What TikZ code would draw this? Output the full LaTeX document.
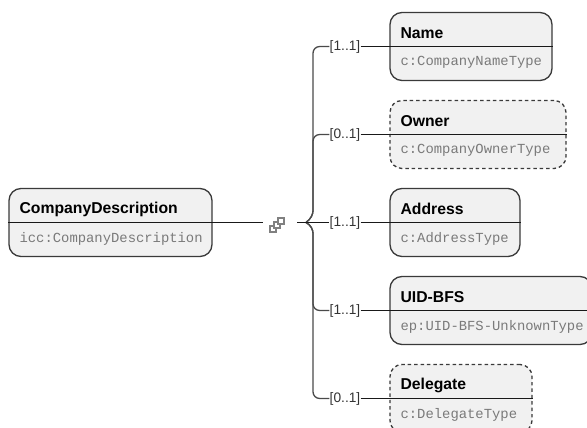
\documentclass[tikz,border=0pt]{standalone}
\usepackage{fontspec}
\setmainfont{Liberation Sans}
\setmonofont{Liberation Mono}
\definecolor{boxfill}{HTML}{F1F1F1}
\definecolor{boxline}{HTML}{3A3A3A}
\definecolor{typegray}{HTML}{7A7A7A}
\definecolor{wiregray}{HTML}{4A4A4A}
\tikzstyle{elem}=[draw=boxline,fill=boxfill,line width=1pt,rounded corners=9pt,minimum height=51pt,inner sep=0pt]
\tikzstyle{optional}=[elem,dash pattern=on 2.6pt off 2.2pt]
\tikzstyle{title}=[anchor=west,inner sep=0pt,font=\fontsize{11.8pt}{14pt}\selectfont\bfseries]
\tikzstyle{type}=[anchor=west,inner sep=0pt,text=typegray,font=\fontsize{10.4pt}{12pt}\selectfont\ttfamily]
\tikzstyle{mult}=[inner sep=0pt,text=black!80,font=\fontsize{10.3pt}{12pt}\selectfont]
\tikzstyle{wire}=[line width=.7pt,black!90]
\tikzstyle{brace}=[line width=1pt,wiregray]
\tikzstyle{link}=[draw=gray,line width=.9pt,fill=white]

\begin{document}
\begin{tikzpicture}[x=.75pt,y=-.75pt]
  \useasboundingbox (0,0) rectangle (587,428);
  \clip (0,0) rectangle (587,428);

  % boxes
  \node[elem,minimum width=152.25pt] (company) at (110.5,222.5) {};
  \node[elem,minimum width=121.5pt] (name) at (471,46.5) {};
  \node[optional,minimum width=132pt] (owner) at (478,134.5) {};
  \node[elem,minimum width=97.5pt] (address) at (455,222.5) {};
  \node[elem,minimum width=151.5pt] (uid) at (491,310.5) {};
  \node[optional,minimum width=106.5pt] (delegate) at (461,398.5) {};

  \foreach \b/\t/\c in {company/CompanyDescription/icc:CompanyDescription,
      name/Name/c:CompanyNameType,owner/Owner/c:CompanyOwnerType,
      address/Address/c:AddressType,uid/UID-BFS/ep:UID-BFS-UnknownType,
      delegate/Delegate/c:DelegateType}{
    \node[title] (\b title) at ([shift={(11,-13.5)}]\b.west) {\t};
    \node[type] (\b type) at ([shift={(11,16)}]\b.west) {\c};
  }

  % group icon
  \coordinate (grpin) at (263,222.5);
  \coordinate (grpout) at (297,222.5);
  \coordinate (hub) at (306,222.5);
  \draw[link] (270,226) rectangle (276,232);
  \draw[link] (274,222) rectangle (280,228);
  \draw[link] (278,218) rectangle (284,224);

  % multiplicities
  \node[mult] (mname) at (345,46.5) {[1..1]};
  \node[mult] (mowner) at (345,134.5) {[0..1]};
  \node[mult] (maddress) at (345,222.5) {[1..1]};
  \node[mult] (muid) at (345,310.5) {[1..1]};
  \node[mult] (mdelegate) at (345,398.5) {[0..1]};

  % brace
  \foreach \m in {mname,mowner}{
    \draw[brace,rounded corners=5pt] (hub) .. controls (311,219) and (313,214) .. (313,204) |- (\m.west);
  }
  \foreach \m in {muid,mdelegate}{
    \draw[brace,rounded corners=5pt] (hub) .. controls (311,225) and (313,230) .. (313,240) |- (\m.west);
  }

  % connectors
  \draw[wire] (company.west) -- (grpin);
  \draw[wire] (grpout) -- (maddress.west);
  \foreach \m/\b in {mname/name,mowner/owner,maddress/address,muid/uid,mdelegate/delegate}{
    \draw[wire] (\m.east) -- (\b.west) -- (\b.east);
  }
\end{tikzpicture}
\end{document}
